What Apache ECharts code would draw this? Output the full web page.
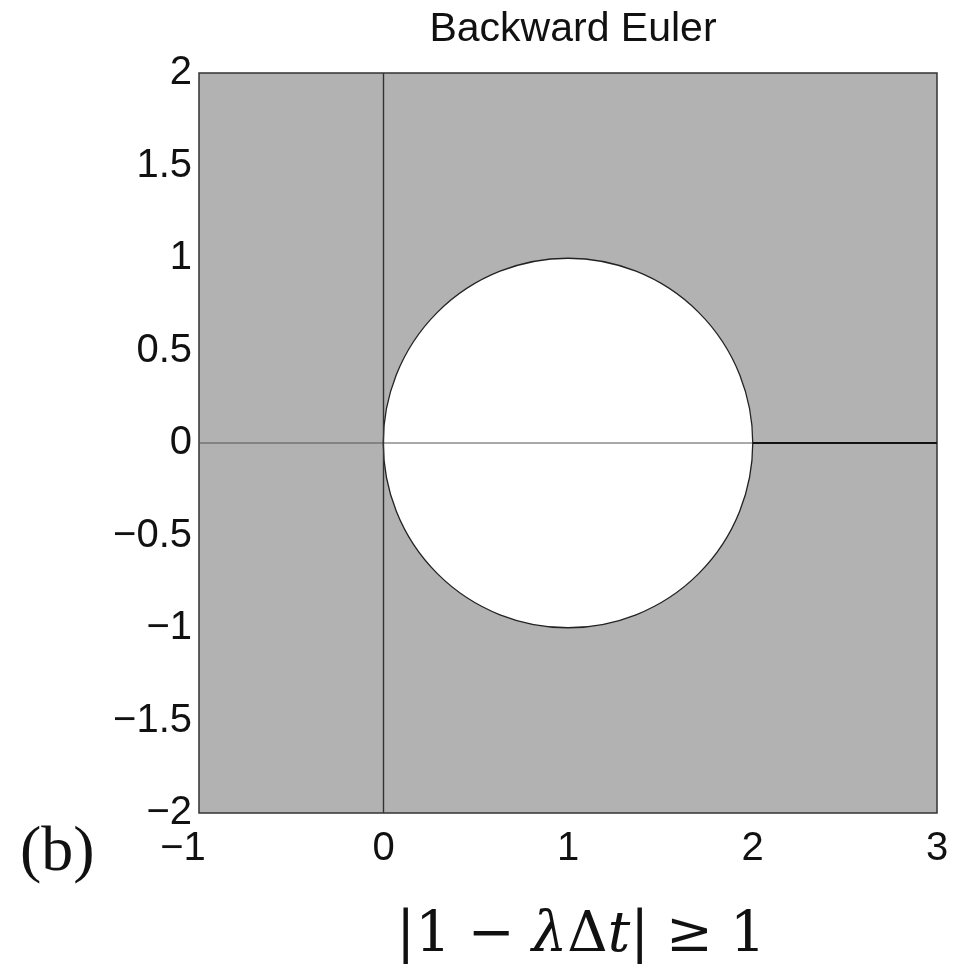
<!DOCTYPE html>
<html>
<head>
<meta charset="utf-8">
<script src="https://cdn.jsdelivr.net/npm/echarts@6/dist/echarts.min.js"></script>
<style>
  html, body { margin: 0; padding: 0; background: #fff; }
  #chart { width: 968px; height: 968px; }
</style>
</head>
<body>
<div id="chart"></div>
<script>
// 数据
const xRange = [-1, 3];
const yRange = [-2, 2];
const circleCenter = [1, 0];   // 白色圆的圆心
const circleRadius = 1;
const realAxis = [[-1, 0], [2, 0]];
const realAxisBold = [[2, 0], [3, 0]];
const imagAxis = [[0, -2], [0, 2]];

const fontSans = '"Liberation Sans", Arial, Helvetica, sans-serif';
const fontSerif = '"DejaVu Serif", "Liberation Serif", serif';
const labelSize = 40;

function minus(v) {
  return String(v).replace('-', '\u2212');
}

let myChart = echarts.init(document.getElementById('chart'));
let option = {
  animation: false,
  title: {
    text: 'Backward Euler',
    left: 568,
    textAlign: 'center',
    top: 4,
    textStyle: { fontFamily: fontSans, fontSize: 41, fontWeight: 'normal', color: '#111' }
  },
  grid: {
    left: 199,
    right: 31,
    top: 73,
    bottom: 155,
    show: true,
    backgroundColor: '#b2b2b2',
    borderColor: '#333',
    borderWidth: 1.5
  },
  xAxis: {
    type: 'value',
    min: xRange[0],
    max: xRange[1],
    interval: 1,
    axisLine: { show: false },
    axisTick: { show: false },
    splitLine: { show: false },
    axisLabel: {
      margin: 16,
      fontFamily: fontSans,
      fontSize: labelSize,
      color: '#111',
      // 负数标签向左偏一点
      formatter: function (v) {
        return v < 0 ? '{neg|' + minus(v) + '}' : minus(v);
      },
      rich: {
        neg: { fontFamily: fontSans, fontSize: labelSize, color: '#111', padding: [0, 32, 0, 0] }
      }
    }
  },
  yAxis: {
    type: 'value',
    min: yRange[0],
    max: yRange[1],
    interval: 0.5,
    axisLine: { show: false },
    axisTick: { show: false },
    splitLine: { show: false },
    axisLabel: {
      margin: 7,
      padding: [7, 0, 0, 0],
      fontFamily: fontSans,
      fontSize: labelSize,
      color: '#111',
      formatter: minus
    }
  },
  series: [
    {
      type: 'custom',
      z: 2,
      data: [[circleCenter[0], circleCenter[1], circleRadius]],
      renderItem: function (params, api) {
        let c = api.coord([api.value(0), api.value(1)]);
        let s = api.size([api.value(2), api.value(2)]);
        return {
          type: 'circle',
          shape: { cx: c[0], cy: c[1], r: (s[0] + s[1]) / 2 },
          style: { fill: '#fff', stroke: '#222', lineWidth: 1.3 }
        };
      }
    },
    {
      type: 'line',
      z: 3,
      data: realAxis,
      symbol: 'none',
      lineStyle: { color: '#555', width: 1.2 }
    },
    {
      type: 'line',
      z: 3,
      data: realAxisBold,
      symbol: 'none',
      lineStyle: { color: '#111', width: 2.2 }
    },
    {
      type: 'line',
      z: 3,
      data: imagAxis,
      symbol: 'none',
      lineStyle: { color: '#333', width: 1.4 }
    }
  ],
  graphic: [
    {
      type: 'text',
      left: 20,
      top: 821,
      style: { text: '(b)', font: '64px "Liberation Serif", serif', fill: '#111' }
    },
    {
      type: 'text',
      x: 581,
      y: 908,
      style: {
        align: 'center',
        text: '{n||1}{op|\u2212}{i|\u03bb}{n|\u0394}{i|t}{n||}{op|\u2265}{n|1}',
        rich: {
          n: { fontFamily: fontSerif, fontSize: 56, fill: '#111' },
          i: { fontFamily: fontSerif, fontSize: 56, fontStyle: 'italic', fill: '#111' },
          op: { fontFamily: fontSerif, fontSize: 56, fill: '#111', padding: [0, 17, 0, 17] }
        }
      }
    }
  ]
};

myChart.setOption(option);
</script>
</body>
</html>
